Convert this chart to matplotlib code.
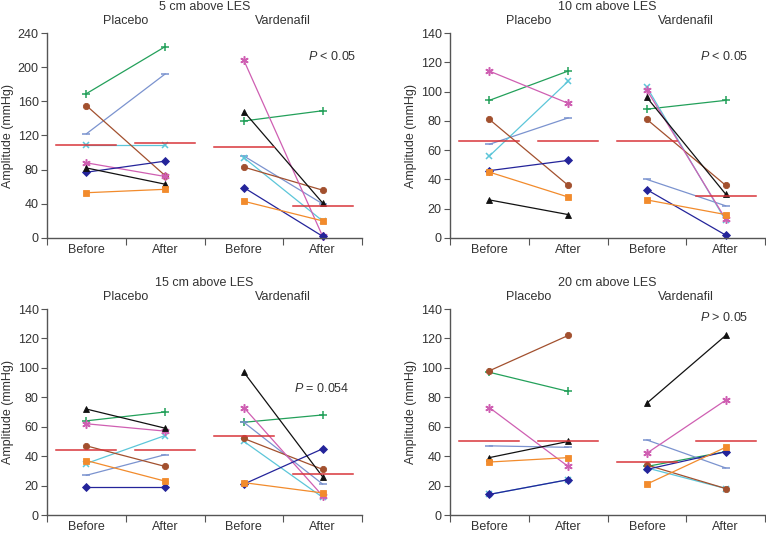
import matplotlib
matplotlib.use('Agg')
import matplotlib.pyplot as plt
import numpy as np

plt.rcParams['font.family'] = ['Liberation Sans', 'DejaVu Sans']
plt.rcParams['mathtext.fontset'] = 'custom'
plt.rcParams['mathtext.it'] = 'Liberation Sans:italic'
plt.rcParams['mathtext.rm'] = 'Liberation Sans'

# values: [placebo before, placebo after, vardenafil before, vardenafil after]
titles = ['5 cm above LES', '10 cm above LES', '15 cm above LES', '20 cm above LES']
p_texts = [r'$P$ < 0.05', r'$P$ < 0.05', r'$P$ = 0.054', r'$P$ > 0.05']
tick_labels = ['Before', 'After', 'Before', 'After']
group_labels = ['Placebo', 'Vardenafil']

cm5_green = [169, 224, 137, 149]
cm5_blue = [122, 192, 96, 40]
cm5_cyan = [109, 109, 94, 20]
cm5_brown = [155, 73, 83, 56]
cm5_pink = [88, 72, 208, 2]
cm5_navy = [77, 90, 59, 2]
cm5_black = [82, 63, 148, 41]
cm5_orange = [53, 57, 43, 20]
cm5_mean = [109, 111, 107, 38]

cm10_green = [94, 114, 88, 94]
cm10_blue = [64, 82, 40, 22]
cm10_cyan = [56, 107, 103, 12]
cm10_brown = [81, 36, 81, 36]
cm10_pink = [114, 92, 101, 13]
cm10_navy = [46, 53, 33, 2]
cm10_black = [26, 16, 96, 30]
cm10_orange = [45, 28, 26, 16]
cm10_mean = [66, 66, 66, 29]

cm15_green = [64, 70, 63, 68]
cm15_blue = [27, 41, 63, 21]
cm15_cyan = [35, 54, 50, 12]
cm15_brown = [47, 33, 52, 31]
cm15_pink = [62, 57, 73, 13]
cm15_navy = [19, 19, 21, 45]
cm15_black = [72, 59, 97, 26]
cm15_orange = [37, 23, 22, 15]
cm15_mean = [44, 44, 54, 28]

cm20_green = [97, 84, 33, 43]
cm20_blue = [47, 46, 51, 32]
cm20_cyan = [14, 24, 32, 18]
cm20_brown = [98, 122, 34, 18]
cm20_pink = [73, 33, 42, 78]
cm20_navy = [14, 24, 31, 43]
cm20_black = [39, 50, 76, 122]
cm20_orange = [36, 39, 21, 46]
cm20_mean = [50, 50, 36, 50]

panels = [
    [cm5_green, cm5_blue, cm5_cyan, cm5_brown, cm5_pink, cm5_navy, cm5_black, cm5_orange],
    [cm10_green, cm10_blue, cm10_cyan, cm10_brown, cm10_pink, cm10_navy, cm10_black, cm10_orange],
    [cm15_green, cm15_blue, cm15_cyan, cm15_brown, cm15_pink, cm15_navy, cm15_black, cm15_orange],
    [cm20_green, cm20_blue, cm20_cyan, cm20_brown, cm20_pink, cm20_navy, cm20_black, cm20_orange],
]
means = [cm5_mean, cm10_mean, cm15_mean, cm20_mean]

styles = [
    ('#23a05a', '+', 6),
    ('#7b93cf', '_', 6),
    ('#5cc6d9', 'x', 4),
    ('#a2502e', 'o', 4.5),
    ('#cf5fb2', (6, 2, 0), 6),
    ('#24249a', 'D', 4),
    ('#111111', '^', 5),
    ('#f28b2c', 's', 4.5),
]
thin_markers = ('+', '_', 'x', (6, 2, 0))

ylims = [240, 140, 140, 140]
ysteps = [40, 20, 20, 20]
p_pos = [(2.82, 213), (2.68, 124), (2.64, 86), (2.68, 134)]

W, H = 766, 533
boxes = [(47, 33, 238), (450, 33, 238), (47, 309, 515), (450, 309, 515)]

fig = plt.figure(figsize=(W / 100, H / 100), dpi=100)
txt = '#333333'
for i in range(4):
    left, top, bottom = boxes[i]
    ax = fig.add_axes([left / W, 1 - bottom / H, 315 / W, (bottom - top) / H])
    x = np.arange(4)
    for vals, (c, m, ms) in zip(panels[i], styles):
        mew = 1.1 if m in thin_markers else 0.6
        for sl in (slice(0, 2), slice(2, 4)):
            ax.plot(x[sl], vals[sl], color=c, marker=m, markersize=ms, lw=0.9,
                    markeredgewidth=mew, markeredgecolor=c, clip_on=False)
    for j, mv in enumerate(means[i]):
        ax.plot([j - 0.38, j + 0.38], [mv, mv], color='#d8353a', lw=1.1)
    ax.set_xlim(-0.5, 3.5)
    ax.set_ylim(0, ylims[i])
    ax.set_yticks(np.arange(0, ylims[i] + 1, ysteps[i]))
    ax.set_xticks([-0.5, 0.5, 1.5, 2.5, 3.5])
    ax.set_xticklabels([])
    ax.set_xticks(x, minor=True)
    ax.set_xticklabels(tick_labels, minor=True)
    ax.tick_params(axis='x', which='minor', length=0, pad=4, labelsize=9, labelcolor=txt)
    ax.tick_params(axis='x', which='major', length=5, color='#555555')
    ax.tick_params(axis='y', length=4, color='#555555', labelsize=9, labelcolor=txt, pad=2)
    for s in ('top', 'right'):
        ax.spines[s].set_visible(False)
    for s in ('left', 'bottom'):
        ax.spines[s].set_color('#555555')
        ax.spines[s].set_linewidth(1)
    ax.text(p_pos[i][0], p_pos[i][1], p_texts[i], fontsize=9, color=txt, va='center')
    cx = (left + 315 / 2) / W
    fig.text(cx, 1 - (top - 26) / H, titles[i], ha='center', va='center', fontsize=9, color=txt)
    fig.text((left + 315 * 0.25) / W, 1 - (top - 12) / H, group_labels[0],
             ha='center', va='center', fontsize=9, color=txt)
    fig.text((left + 315 * 0.75) / W, 1 - (top - 12) / H, group_labels[1],
             ha='center', va='center', fontsize=9, color=txt)
    fig.text((left - 39) / W, 1 - (top + bottom) / 2 / H, 'Amplitude (mmHg)', rotation=90,
             ha='center', va='center', fontsize=9, color=txt)

fig.savefig('out.png', dpi=100)
